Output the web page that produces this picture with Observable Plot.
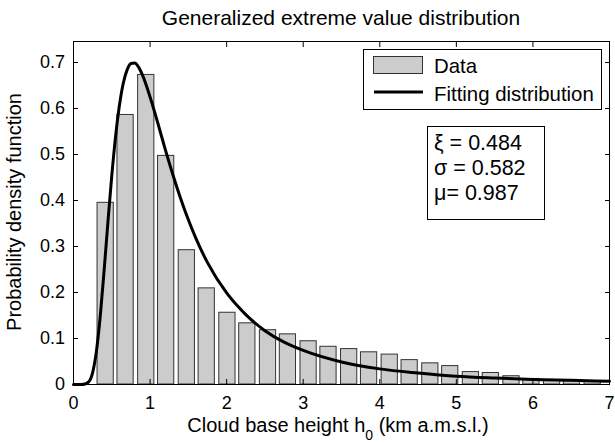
<!DOCTYPE html>
<html><head><meta charset="utf-8">
<script src="https://cdn.jsdelivr.net/npm/d3@7"></script>
<script src="https://cdn.jsdelivr.net/npm/@observablehq/plot@0.6"></script>
<style>
body{margin:0;background:#fff;}
#chart{position:relative;width:615px;height:443px;}
</style></head><body><div id="chart"></div>
<script>
// ---- data ----
const binCenters = [0.42, 0.68, 0.95, 1.21, 1.48, 1.74, 2.01, 2.27, 2.54, 2.80, 3.07, 3.33, 3.60,
                    3.86, 4.13, 4.39, 4.66, 4.92, 5.19, 5.45, 5.72, 5.98, 6.25, 6.51, 6.78];
const density = [0.395, 0.586, 0.673, 0.497, 0.292, 0.209, 0.156, 0.133, 0.118, 0.109, 0.094, 0.082, 0.077,
                 0.070, 0.065, 0.053, 0.046, 0.040, 0.027, 0.025, 0.018, 0.012, 0.009, 0.007, 0.006];
const curveX = [0, 0.1, 0.15, 0.2, 0.25, 0.3, 0.35, 0.4, 0.45, 0.5, 0.55, 0.6, 0.65, 0.7, 0.75, 0.8, 0.85, 0.9,
                1.0, 1.1, 1.2, 1.3, 1.4, 1.5, 1.6, 1.75, 2.0, 2.25, 2.5, 2.75, 3.0, 3.5, 4.0, 4.5, 5.0, 5.5, 6.0, 6.5, 7.0];
const curveY = [0, 0.000, 0.001, 0.006, 0.026, 0.073, 0.150, 0.248, 0.354, 0.454, 0.540, 0.607, 0.655, 0.684, 0.698, 0.699, 0.690, 0.673,
                0.625, 0.569, 0.510, 0.455, 0.404, 0.358, 0.317, 0.265, 0.199, 0.152, 0.117, 0.092, 0.074, 0.049, 0.034, 0.025, 0.018, 0.014, 0.011, 0.009, 0.007];
const xTicks = [0, 1, 2, 3, 4, 5, 6, 7];
const yTicks = [0, 0.1, 0.2, 0.3, 0.4, 0.5, 0.6, 0.7];
const xDomain = [0, 7];
const yDomain = [0, 0.7457];
const titleText = "Generalized extreme value distribution";
const xLabelParts = ["Cloud base height h", "0", " (km a.m.s.l.)"];
const yLabelText = "Probability density function";
const legendLabels = ["Data", "Fitting distribution"];
const paramLabels = ["\u03BE = 0.484", "\u03C3 = 0.582", "\u03BC= 0.987"];

// ---- styling ----
const FONT = '"Liberation Sans", Arial, Helvetica, sans-serif';
const barFill = "#cccccc", barStroke = "#333333";
const binStep = (binCenters[binCenters.length - 1] - binCenters[0]) / (binCenters.length - 1);
const barW = binStep * 0.8;

const bars = binCenters.map((c, i) => ({x1: c - barW / 2, x2: c + barW / 2, y: density[i]}));
const curve = curveX.map((x, i) => ({x, y: curveY[i]}));

const plot = Plot.plot({
  width: 615, height: 443,
  marginLeft: 73, marginRight: 6, marginTop: 41, marginBottom: 59,
  style: {fontFamily: FONT, fontSize: "18px", color: "black", background: "white"},
  x: {domain: xDomain},
  y: {domain: yDomain},
  marks: [
    Plot.rect(bars, {x1: "x1", x2: "x2", y1: d => 0, y2: "y", fill: barFill, stroke: barStroke, strokeWidth: 1}),
    Plot.line(curve, {x: "x", y: "y", stroke: "black", strokeWidth: 3, curve: "monotone-x"}),
    Plot.axisX(xTicks, {anchor: "bottom", tickSize: -5, tickPadding: 17, label: null, tickFormat: d => String(d)}),
    Plot.axisX(xTicks, {anchor: "top", tickSize: -5, fill: "none", label: null}),
    Plot.axisY(yTicks, {anchor: "left", tickSize: -5, tickPadding: 13.5, label: null, tickFormat: d => d === 0 ? "0" : String(+d.toFixed(1))}),
    Plot.axisY(yTicks, {anchor: "right", tickSize: -5, fill: "none", label: null}),
    Plot.frame({stroke: "black"})
  ]
});
document.getElementById("chart").appendChild(plot);

const svg = d3.select(plot);
const g = svg.append("g").attr("font-family", FONT).attr("fill", "black");
// title
g.append("text").attr("x", 341).attr("y", 25).attr("text-anchor", "middle").attr("font-size", 21).text(titleText);
// x label with subscript
const xl = g.append("text").attr("x", 338).attr("y", 432).attr("text-anchor", "middle").attr("font-size", 20);
xl.append("tspan").text(xLabelParts[0]);
xl.append("tspan").attr("dy", 8).attr("font-size", 14).text(xLabelParts[1]);
xl.append("tspan").attr("dy", -8).text(xLabelParts[2]);
// y label
g.append("text").attr("transform", "translate(21,212) rotate(-90)").attr("text-anchor", "middle").attr("font-size", 20).text(yLabelText);

// legend
const lg = svg.append("g").attr("font-family", FONT).attr("text-anchor", "start");
lg.append("rect").attr("x", 363.5).attr("y", 49.5).attr("width", 238).attr("height", 60).attr("fill", "white").attr("stroke", "black");
lg.append("rect").attr("x", 373.5).attr("y", 56.5).attr("width", 49).attr("height", 17).attr("fill", barFill).attr("stroke", barStroke);
lg.append("line").attr("x1", 374).attr("x2", 423).attr("y1", 92).attr("y2", 92).attr("stroke", "black").attr("stroke-width", 3);
legendLabels.forEach((t, i) => lg.append("text").attr("x", 434).attr("y", [73, 101][i]).attr("text-anchor", "start").attr("font-size", 20.4).text(t));

// parameter box
const pb = svg.append("g").attr("font-family", FONT).attr("text-anchor", "start");
pb.append("rect").attr("x", 427.5).attr("y", 126.5).attr("width", 117).attr("height", 93).attr("fill", "white").attr("stroke", "black");
paramLabels.forEach((t, i) => pb.append("text").attr("x", 434).attr("y", 150 + i * 25).attr("text-anchor", "start").attr("font-size", 21.5).text(t));
</script></body></html>
